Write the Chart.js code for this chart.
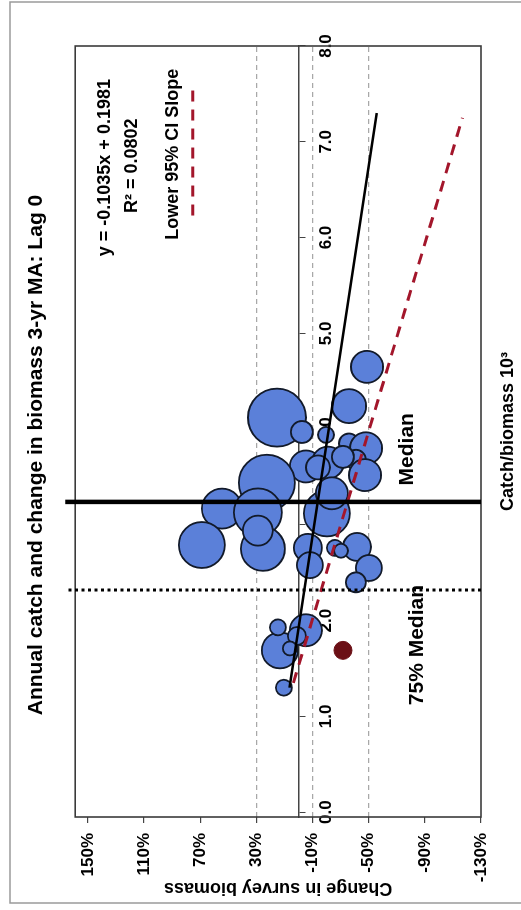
<!DOCTYPE html>
<html lang="en">
<head>
<meta charset="UTF-8">
<title>Annual catch and change in biomass 3-yr MA: Lag 0</title>
<script src="https://cdn.jsdelivr.net/npm/chart.js"></script>
<style>
  html, body { margin: 0; padding: 0; background: #fff; overflow: hidden; }
  #page { position: relative; width: 521px; height: 910px; }
  /* the chart is drawn upright and then turned a quarter to the left */
  #turn { position: absolute; left: 0; top: 0; width: 910px; height: 521px;
          transform-origin: 0 0; transform: translate(0, 910px) rotate(-90deg); }
</style>
</head>
<body>
<div id="page"><div id="turn"><canvas id="myChart" width="910" height="521"></canvas></div></div>

<script>
    // bubbles: catch/biomass (x10^3), change in survey biomass (%), bubble size
    const catchBiomass  = [4.65, 4.24, 4.12, 3.97, 3.85, 3.80, 3.68, 3.52, 3.61, 3.65, 3.60, 3.71, 3.94,
                           3.44, 3.17, 3.13, 2.79, 2.75, 2.94, 3.12, 3.33, 2.76, 2.58, 2.76, 2.77, 2.55,
                           2.40, 2.73, 1.69, 1.93, 1.90, 1.84, 1.71, 1.30];
    const biomassChange = [-48.8, -36.0, 15.3, -2.5, -36.0, -48.1, -40.9, -47.4, -5.3, -21.0, -13.9, -31.7, -19.6,
                           22.5, 54.5, 28.9, 68.8, 25.3, 28.9, -20.3, -23.8, -6.7, -8.2, -26.0, -41.7, -50.2,
                           -40.9, -30.3, 13.2, 14.6, -5.3, 1.1, 6.1, 10.4];
    const bubbleSize    = [16, 17, 29, 11, 10, 16, 10, 16, 16, 16, 12, 11, 8,
                           28, 20, 24, 23, 22, 15, 23, 16, 14, 13, 8, 14, 13,
                           10, 7, 18, 8, 16, 9, 7, 8];

    // the odd year shown as a dark red point
    const outlierX = [1.69];
    const outlierY = [-31.7];

    // regression line and lower 95% CI slope (end points)
    const regX = [1.30, 7.30];
    const regY = [6.4, -55.7];
    const ciX = [1.35, 7.25];
    const ciY = [3.6, -116.8];
    const ciKeyX = [6.23, 7.59];
    const ciKeyY = [75.2, 75.2];

    // median lines (catch/biomass)
    const medianX = 3.24;
    const median75X = 2.32;
    const medianSpanY = [-130, 166];

    // tick labels
    const xTicks = [0, 1, 2, 3, 4, 5, 6, 7, 8];
    const yTicks = [150, 110, 70, 30, -10, -50, -90, -130];
    const dashedAt = [30, -10, -50];

    // texts written in the plot
    const noteText = ['y = -0.1035x + 0.1981', 'R\u00b2 = 0.0802', 'Lower 95% CI Slope', 'Median', '75% Median'];
    const noteX = [6.73, 6.75, 6.87, 3.79, 1.745];
    const noteY = [137.9, 118.6, 89.4, -77.3, -84.4];

    const FONT = "'Liberation Sans', Arial, sans-serif";
    Chart.defaults.font.family = FONT;
    Chart.defaults.font.weight = 'bold';
    Chart.defaults.color = '#000';

    function pts(xs, ys) {
        return xs.map((x, i) => ({ x: x, y: ys[i] }));
    }

    // white page, outer frame, plot box and the texts
    const framePlugin = {
        id: 'frames',
        beforeDraw(chart) {
            const ctx = chart.ctx;
            ctx.save();
            ctx.fillStyle = '#fff';
            ctx.fillRect(0, 0, chart.width, chart.height);
            ctx.strokeStyle = '#9a9a9a';
            ctx.lineWidth = 1.5;
            ctx.strokeRect(7, 10, chart.width - 9, chart.height + 10);
            ctx.restore();
        },
        beforeDatasetsDraw(chart) {
            const a = chart.chartArea, ctx = chart.ctx;
            ctx.save();
            ctx.strokeStyle = '#3a3a3a';
            ctx.lineWidth = 1.6;
            ctx.strokeRect(a.left, a.top, a.right - a.left, a.bottom - a.top);
            ctx.restore();
        },
        afterDatasetsDraw(chart) {
            const ctx = chart.ctx, xs = chart.scales.x, ys = chart.scales.y;
            ctx.save();
            ctx.fillStyle = '#000';
            ctx.textAlign = 'center';
            ctx.textBaseline = 'middle';
            noteText.forEach((t, i) => {
                ctx.font = 'bold ' + (i < 3 ? 18 : 21) + 'px ' + FONT;
                ctx.fillText(t, xs.getPixelForValue(noteX[i]), ys.getPixelForValue(noteY[i]));
            });
            ctx.restore();
        }
    };

    const ctx = document.getElementById('myChart').getContext('2d');
    const myChart = new Chart(ctx, {
        type: 'bubble',
        data: {
            datasets: [
                {
                    type: 'line', label: 'Median', order: 1, clip: false,
                    data: pts([medianX, medianX], medianSpanY),
                    borderColor: '#000', borderWidth: 4.5, pointRadius: 0
                },
                {
                    type: 'line', label: '75% Median', order: 1, clip: false,
                    data: pts([median75X, median75X], medianSpanY),
                    borderColor: '#000', borderWidth: 3, borderDash: [3, 3.5], pointRadius: 0
                },
                {
                    type: 'line', label: 'Regression', order: 2,
                    data: pts(regX, regY),
                    borderColor: '#000', borderWidth: 2.5, pointRadius: 0
                },
                {
                    type: 'line', label: 'Lower 95% CI Slope', order: 2,
                    data: pts(ciX, ciY),
                    borderColor: '#a3162b', borderWidth: 3, borderDash: [11, 8], pointRadius: 0
                },
                {
                    type: 'line', label: 'key', order: 2,
                    data: pts(ciKeyX, ciKeyY),
                    borderColor: '#a3162b', borderWidth: 3, borderDash: [11, 8], pointRadius: 0
                },
                {
                    type: 'scatter', label: 'outlier', order: 3,
                    data: pts(outlierX, outlierY),
                    backgroundColor: '#6b0f15', borderColor: '#6b0f15', pointRadius: 9
                },
                {
                    label: 'years', order: 4,
                    data: catchBiomass.map((x, i) => ({ x: x, y: biomassChange[i], r: bubbleSize[i] })),
                    backgroundColor: '#5b80d9', borderColor: '#121a2a', borderWidth: 1.8
                }
            ]
        },
        options: {
            responsive: false,
            animation: false,
            layout: { padding: 0 },
            plugins: {
                legend: { display: false },
                tooltip: { enabled: false },
                title: {
                    display: true,
                    text: 'Annual catch and change in biomass 3-yr MA: Lag 0',
                    font: { size: 21, weight: 'bold' },
                    color: '#000',
                    padding: { top: 24, bottom: 26 }
                }
            },
            scales: {
                x: {
                    type: 'linear', position: { y: 0 }, min: -0.05, max: 8,
                    afterBuildTicks: s => { s.ticks = xTicks.map(v => ({ value: v })); },
                    ticks: { callback: v => v.toFixed(1), font: { size: 17, weight: 'bold' }, color: '#000',
                             padding: 12, maxRotation: 0, autoSkip: false },
                    grid: { drawOnChartArea: false, color: '#444', tickLength: 6 },
                    border: { color: '#444', width: 1.5 }
                },
                xTitle: {
                    type: 'linear', axis: 'x', position: 'bottom', min: -0.05, max: 8,
                    ticks: { display: false },
                    grid: { display: false, drawTicks: false },
                    border: { display: false },
                    title: { display: true, text: 'Catch/biomass 10\u00b3', font: { size: 18, weight: 'bold' },
                             color: '#000', padding: { top: 0, bottom: 2 } },
                    afterFit: s => { s.height = 40; }
                },
                y: {
                    type: 'linear', position: 'left', min: -130, max: 159,
                    afterBuildTicks: s => { s.ticks = yTicks.map(v => ({ value: v })); },
                    ticks: { callback: v => v + '%', font: { size: 17, weight: 'bold' }, color: '#000', padding: 10 },
                    grid: {
                        color: c => (c.tick && dashedAt.includes(c.tick.value)) ? '#a8a8a8' : 'rgba(0,0,0,0)',
                        tickColor: '#444', tickLength: 6, lineWidth: 1.2, tickBorderDash: []
                    },
                    border: { display: false, dash: [5, 4] },
                    title: { display: true, text: 'Change in survey biomass', font: { size: 18, weight: 'bold' },
                             color: '#000', padding: { top: 11, bottom: 0 } },
                    afterFit: s => { s.width = 93; }
                },
                // empty strip on the right so the title stays centred on the whole page
                ySpace: {
                    type: 'linear', axis: 'y', position: 'right', display: true, min: -130, max: 159,
                    ticks: { display: false },
                    grid: { display: false, drawTicks: false },
                    border: { display: false },
                    afterFit: s => { s.width = 46; }
                }
            }
        },
        plugins: [framePlugin]
    });
</script>
</body>
</html>
